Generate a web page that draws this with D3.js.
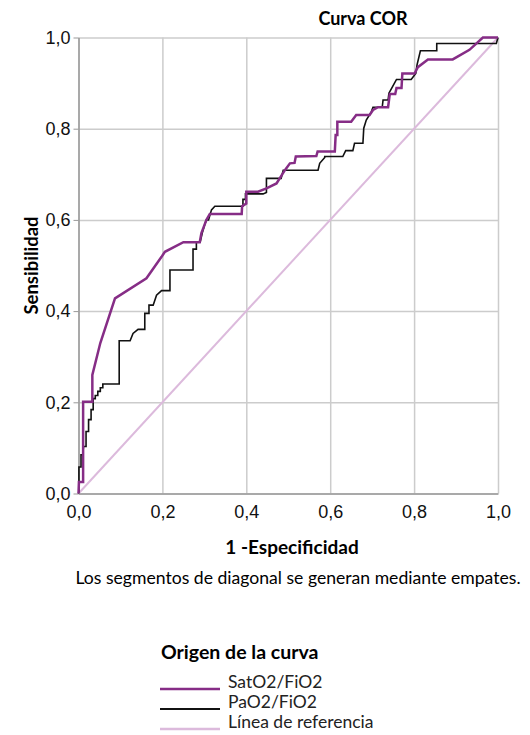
<!DOCTYPE html>
<html>
<head>
<meta charset="utf-8">
<script src="https://cdn.jsdelivr.net/npm/d3@7"></script>
<style>
  body { margin: 0; background: #fff; }
  svg { display: block; font-family: Lato, "Open Sans", sans-serif; }
</style>
</head>
<body>
<div id="chart"></div>
<script>
// tick labels
const ticks = [0, 0.2, 0.4, 0.6, 0.8, 1.0];

// SatO2/FiO2 curve [1-Especificidad, Sensibilidad]
const satPoints = [
  [0, 0], [0.001, 0.025], [0.011, 0.025], [0.011, 0.201], [0.033, 0.201], [0.033, 0.26],
  [0.052, 0.33], [0.087, 0.428], [0.162, 0.472], [0.198, 0.519], [0.206, 0.53],
  [0.25, 0.551], [0.289, 0.551], [0.293, 0.571], [0.305, 0.6], [0.313, 0.613],
  [0.389, 0.613], [0.39, 0.63], [0.4, 0.636], [0.4, 0.662], [0.428, 0.662],
  [0.448, 0.669], [0.472, 0.68], [0.492, 0.709], [0.504, 0.724], [0.515, 0.725],
  [0.518, 0.739], [0.567, 0.74], [0.57, 0.75], [0.611, 0.75], [0.613, 0.786],
  [0.617, 0.786], [0.617, 0.815], [0.65, 0.815], [0.662, 0.83], [0.694, 0.83],
  [0.702, 0.841], [0.714, 0.847], [0.738, 0.847], [0.742, 0.876], [0.755, 0.876],
  [0.758, 0.889], [0.77, 0.889], [0.772, 0.921], [0.801, 0.921], [0.809, 0.935],
  [0.833, 0.952], [0.892, 0.952], [0.932, 0.973], [0.964, 1.0], [1.0, 1.0]
];

// PaO2/FiO2 curve
const paoPoints = [
  [0, 0], [0.001, 0.004], [0.001, 0.058], [0.006, 0.058], [0.006, 0.085], [0.01, 0.085],
  [0.012, 0.103], [0.018, 0.103], [0.018, 0.136], [0.024, 0.136], [0.024, 0.162],
  [0.03, 0.162], [0.03, 0.184], [0.035, 0.184], [0.035, 0.208], [0.04, 0.208],
  [0.04, 0.215], [0.046, 0.215], [0.046, 0.224], [0.052, 0.224], [0.052, 0.232],
  [0.058, 0.232], [0.058, 0.24], [0.097, 0.24], [0.097, 0.335], [0.123, 0.335],
  [0.13, 0.351], [0.142, 0.36], [0.158, 0.36], [0.158, 0.395], [0.168, 0.395],
  [0.168, 0.413], [0.178, 0.413], [0.186, 0.435], [0.198, 0.445], [0.218, 0.445],
  [0.218, 0.49], [0.273, 0.49], [0.273, 0.536], [0.281, 0.536], [0.281, 0.551],
  [0.29, 0.551], [0.295, 0.571], [0.302, 0.593], [0.305, 0.6], [0.31, 0.6],
  [0.317, 0.622], [0.325, 0.63], [0.392, 0.63], [0.392, 0.645], [0.398, 0.645],
  [0.398, 0.657], [0.44, 0.657], [0.448, 0.66], [0.448, 0.691], [0.483, 0.691],
  [0.488, 0.709], [0.571, 0.709], [0.575, 0.724], [0.587, 0.737], [0.587, 0.739],
  [0.63, 0.739], [0.637, 0.752], [0.654, 0.752], [0.658, 0.768], [0.678, 0.768],
  [0.68, 0.801], [0.686, 0.819], [0.698, 0.837], [0.702, 0.847], [0.724, 0.847],
  [0.726, 0.863], [0.738, 0.863], [0.74, 0.878], [0.748, 0.891], [0.758, 0.908],
  [0.793, 0.908], [0.804, 0.921], [0.807, 0.94], [0.815, 0.971], [0.854, 0.971],
  [0.854, 0.987], [0.996, 0.987], [1.0, 1.0]
];

// linea de referencia
const refPoints = [[0, 0], [1, 1]];

const series = [
  { name: "SatO2/FiO2", points: satPoints, color: "#862d86", width: 2.5 },
  { name: "PaO2/FiO2", points: paoPoints, color: "#111111", width: 1.6 },
  { name: "Línea de referencia", points: refPoints, color: "#dcbadc", width: 2 }
];

const width = 530, height = 735;
const x = d3.scaleLinear([0, 1], [78.5, 498]);
const y = d3.scaleLinear([0, 1], [493.5, 37.5]);
const fmt = d => d3.format(".1f")(d).replace(".", ",");

const svg = d3.select("#chart").append("svg")
  .attr("width", width)
  .attr("height", height)
  .attr("viewBox", [0, 0, width, height]);

// gridlines
svg.append("g")
  .attr("transform", `translate(0,${y(0)})`)
  .call(d3.axisBottom(x).tickValues(ticks).tickSize(-(y(0) - y(1))).tickFormat(""))
  .call(g => g.select(".domain").remove())
  .call(g => g.selectAll(".tick line").attr("stroke", "#cccccc").attr("stroke-width", 1.5));

svg.append("g")
  .attr("transform", `translate(${x(0)},0)`)
  .call(d3.axisLeft(y).tickValues(ticks).tickSize(-(x(1) - x(0))).tickFormat(""))
  .call(g => g.select(".domain").remove())
  .call(g => g.selectAll(".tick line").attr("stroke", "#cccccc").attr("stroke-width", 1.5));

// left axis with labels
svg.append("g")
  .attr("transform", `translate(${x(0)},0)`)
  .call(d3.axisLeft(y).tickValues(ticks).tickSize(5).tickSizeOuter(0).tickPadding(3).tickFormat(fmt))
  .call(g => g.select(".domain").attr("stroke", "#999999").attr("stroke-width", 1.5))
  .call(g => g.selectAll(".tick line").attr("stroke", "#999999"))
  .call(g => g.selectAll(".tick text").attr("font-size", 18).attr("fill", "#111"));

// bottom axis with labels
svg.append("g")
  .attr("transform", `translate(0,${y(0)})`)
  .call(d3.axisBottom(x).tickValues(ticks).tickSize(0).tickSizeOuter(0).tickPadding(12).tickFormat(fmt))
  .call(g => g.select(".domain").attr("stroke", "#999999").attr("stroke-width", 1.5))
  .call(g => g.selectAll(".tick text").attr("font-size", 18).attr("fill", "#111"));

const line = d3.line().x(d => x(d[0])).y(d => y(d[1]));

// draw reference first, then black, then purple
const order = [series[2], series[1], series[0]];
svg.append("g")
  .selectAll("path")
  .data(order)
  .join("path")
  .attr("fill", "none")
  .attr("stroke", d => d.color)
  .attr("stroke-width", d => d.width)
  .attr("stroke-linejoin", "miter")
  .attr("d", d => line(d.points));

// titles
svg.append("text")
  .attr("x", 363).attr("y", 25)
  .attr("text-anchor", "middle")
  .attr("font-size", 18).attr("font-weight", "bold")
  .text("Curva COR");

svg.append("text")
  .attr("x", 292).attr("y", 554)
  .attr("text-anchor", "middle")
  .attr("font-size", 19).attr("font-weight", "bold")
  .text("1 -Especificidad");

svg.append("text")
  .attr("transform", `translate(38,${(y(0) + y(1)) / 2}) rotate(-90)`)
  .attr("text-anchor", "middle")
  .attr("font-size", 18.5).attr("font-weight", "bold")
  .text("Sensibilidad");

svg.append("text")
  .attr("x", 298).attr("y", 584)
  .attr("text-anchor", "middle")
  .attr("font-size", 17.6)
  .text("Los segmentos de diagonal se generan mediante empates.");

// legend
svg.append("text")
  .attr("x", 161).attr("y", 659)
  .attr("font-size", 19.5).attr("font-weight", "bold")
  .text("Origen de la curva");

const legend = svg.append("g")
  .selectAll("g")
  .data(series)
  .join("g")
  .attr("transform", (d, i) => `translate(160,${689 + i * 20})`);

legend.append("line")
  .attr("x1", 0).attr("x2", 60)
  .attr("stroke", d => d.color)
  .attr("stroke-width", d => d.name === "PaO2/FiO2" ? 2 : 2.5);

legend.append("text")
  .attr("x", 68).attr("y", -1)
  .attr("font-size", 17.5).attr("fill", "#222")
  .text(d => d.name);
</script>
</body>
</html>
